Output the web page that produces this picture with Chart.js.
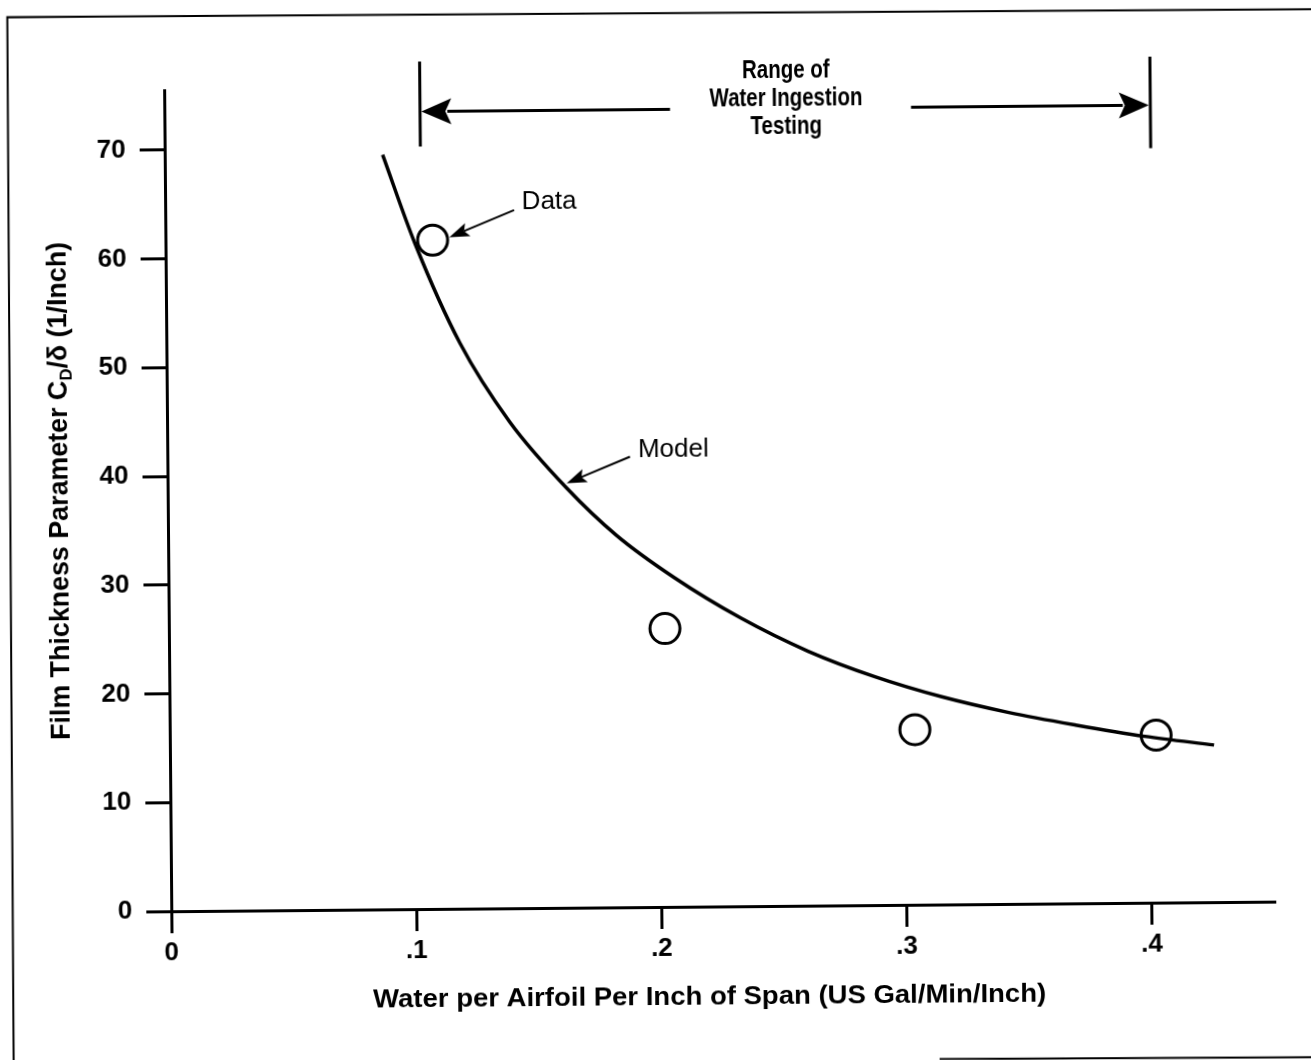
<!DOCTYPE html>
<html>
<head>
<meta charset="utf-8">
<script src="https://cdn.jsdelivr.net/npm/chart.js@4.4.1/dist/chart.umd.min.js"></script>
<style>
html,body{margin:0;padding:0;background:#fff;overflow:hidden}
/* canvas is 20px larger on every side; the scanned figure sits slightly skewed */
#filmChart{display:block;margin:-20px 0 0 -20px;transform:rotate(-0.5deg);transform-origin:50% 50%}
</style>
</head>
<body>
<canvas id="filmChart" width="1351" height="1100"></canvas>
<script>
// values
const xTicks = [0, 0.1, 0.2, 0.3, 0.4];
const yTicks = [0, 10, 20, 30, 40, 50, 60, 70];
const dataX = [0.109, 0.2024, 0.304, 0.4024];
const dataY = [61.5, 25.6, 16.1, 15.4];
const modelX = [0.0889, 0.1018, 0.1198, 0.1399, 0.1628, 0.183, 0.2062, 0.2334, 0.2607, 0.2879, 0.3151, 0.3424, 0.3696, 0.3978, 0.426];
const modelY = [69.4, 61.2, 52.0, 44.7, 38.6, 34.2, 30.3, 26.5, 23.4, 21.0, 19.1, 17.6, 16.4, 15.3, 14.45];

const FONT = '"Liberation Sans", Arial, Helvetica, sans-serif';
const OFF = 20;

function arrow(ctx, x1, y1, x2, y2, len, half) {
  const a = Math.atan2(y2 - y1, x2 - x1);
  const c = Math.cos(a), s = Math.sin(a);
  const bx = x2 - c * len, by = y2 - s * len;
  ctx.beginPath();
  ctx.moveTo(x1, y1);
  ctx.lineTo(bx + c * 4, by + s * 4);
  ctx.stroke();
  ctx.beginPath();
  ctx.moveTo(x2, y2);
  ctx.lineTo(bx + s * half, by - c * half);
  ctx.lineTo(bx + c * len * 0.2, by + s * len * 0.2);
  ctx.lineTo(bx - s * half, by + c * half);
  ctx.closePath();
  ctx.fill();
}

// draw text centred at x,y squeezed/stretched to a given width
function fitText(ctx, text, x, y, width, font) {
  ctx.font = font;
  const w = ctx.measureText(text).width;
  ctx.save();
  ctx.translate(x, y);
  ctx.scale(width / w, 1);
  ctx.textAlign = 'center';
  ctx.fillText(text, 0, 0);
  ctx.restore();
}

const extras = {
  id: 'extras',
  afterDraw(chart) {
    const ctx = chart.ctx;
    ctx.save();
    ctx.translate(OFF, OFF);
    ctx.strokeStyle = '#000';
    ctx.fillStyle = '#000';
    ctx.textBaseline = 'middle';

    // page frame
    ctx.lineWidth = 2;
    ctx.beginPath();
    ctx.moveTo(9, 1075);
    ctx.lineTo(11.8, 11.6);
    ctx.lineTo(1330, 15);
    ctx.moveTo(935, 1061.4);
    ctx.lineTo(1330, 1063);
    ctx.stroke();

    // x axis title
    fitText(ctx, 'Water per Airfoil Per Inch of Span (US Gal/Min/Inch)', 705.6, 997.5, 673, 'bold 26px ' + FONT);

    // y axis title with subscript
    ctx.save();
    ctx.translate(60.3, 485.8);
    ctx.rotate(-Math.PI / 2);
    const parts = [
      ['Film Thickness Parameter C', 'bold 27px ' + FONT, 0],
      ['D', 'bold 17px ' + FONT, 8],
      ['/δ (1/Inch)', 'bold 27px ' + FONT, 0]
    ];
    let total = 0;
    const widths = parts.map(p => { ctx.font = p[1]; const w = ctx.measureText(p[0]).width; total += w; return w; });
    ctx.scale(498 / total, 1);
    let x = -total / 2;
    ctx.textAlign = 'left';
    parts.forEach((p, i) => {
      ctx.font = p[1];
      ctx.fillText(p[0], x, p[2]);
      x += widths[i];
    });
    ctx.restore();

    // range of testing annotation
    ctx.lineWidth = 3;
    ctx.beginPath();
    ctx.moveTo(423.7, 59.6);
    ctx.lineTo(423.7, 144.6);
    ctx.moveTo(1154, 61);
    ctx.lineTo(1154, 152.6);
    ctx.stroke();
    arrow(ctx, 673.7, 109.5, 425, 109.5, 30, 13);
    arrow(ctx, 914.7, 109.5, 1152.5, 109.5, 30, 13);
    ctx.font = 'bold 25px ' + FONT;
    const sx = 153 / ctx.measureText('Water Ingestion').width;
    [['Range of', 72], ['Water Ingestion', 100.3], ['Testing', 128.6]].forEach(([t, y]) => {
      ctx.font = 'bold 25px ' + FONT;
      fitText(ctx, t, 789.8, y, ctx.measureText(t).width * sx, 'bold 25px ' + FONT);
    });

    // callouts
    ctx.font = '26px ' + FONT;
    ctx.textAlign = 'left';
    ctx.fillText('Data', 524.6, 201.1);
    ctx.fillText('Model', 638.7, 450.2);
    ctx.lineWidth = 2;
    arrow(ctx, 516.9, 208.8, 451.9, 235.5, 20, 7);
    arrow(ctx, 630.6, 456.5, 567.1, 482.5, 20, 7);
    ctx.restore();
  }
};

const modelPts = modelX.map((v, i) => ({x: v, y: modelY[i]}));
const dataPts = dataX.map((v, i) => ({x: v, y: dataY[i]}));

new Chart(document.getElementById('filmChart'), {
  type: 'scatter',
  data: {
    datasets: [{
      label: 'Model',
      data: modelPts,
      showLine: true,
      borderColor: '#000',
      borderWidth: 3.5,
      pointRadius: 0,
      cubicInterpolationMode: 'monotone'
    }, {
      label: 'Data',
      data: dataPts,
      showLine: false,
      pointStyle: 'circle',
      pointRadius: 15,
      pointBorderWidth: 3,
      pointBorderColor: '#000',
      pointBackgroundColor: 'rgba(0,0,0,0)'
    }]
  },
  options: {
    responsive: false,
    animation: false,
    layout: {padding: {left: 0, top: 86 + OFF, right: 40 + OFF, bottom: 0}},
    plugins: {
      legend: {display: false},
      tooltip: {enabled: false}
    },
    scales: {
      x: {
        type: 'linear',
        min: 0,
        max: 0.45,
        afterBuildTicks: axis => { axis.ticks = xTicks.map(v => ({value: v})); },
        afterFit: axis => { axis.height = 153 + OFF; },
        grid: {drawOnChartArea: false, drawTicks: true, tickLength: 22, color: '#000', lineWidth: 3},
        border: {display: true, color: '#000', width: 3},
        ticks: {
          color: '#000',
          padding: 4,
          maxRotation: 0,
          font: {family: FONT, size: 26, weight: 'bold'},
          callback: v => v === 0 ? '0' : '.' + Math.round(v * 10)
        }
      },
      y: {
        type: 'linear',
        min: 0,
        max: 75.5,
        afterBuildTicks: axis => { axis.ticks = yTicks.map(v => ({value: v})); },
        afterFit: axis => { axis.width = 168 + OFF; },
        grid: {drawOnChartArea: false, drawTicks: true, tickLength: 25, color: '#000', lineWidth: 3},
        border: {display: true, color: '#000', width: 3},
        ticks: {
          color: '#000',
          padding: 14,
          font: {family: FONT, size: 26, weight: 'bold'},
          callback: v => String(v)
        }
      }
    }
  },
  plugins: [extras]
});
</script>
</body>
</html>
